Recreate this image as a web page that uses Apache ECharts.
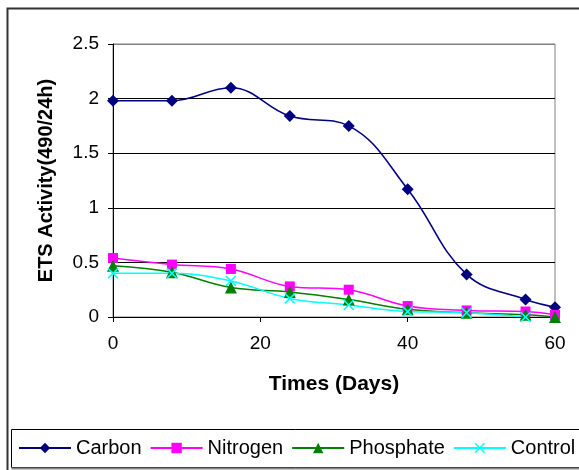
<!DOCTYPE html>
<html>
<head>
<meta charset="utf-8">
<script src="https://cdn.jsdelivr.net/npm/echarts@6/dist/echarts.min.js"></script>
<style>
html,body{margin:0;padding:0;background:#fff;}
#c{width:579px;height:470px;}
</style>
</head>
<body>
<div id="c"></div>
<script>
var days = [0, 8, 16, 24, 32, 40, 48, 56, 60];
var carbon = [1.98, 1.98, 2.10, 1.84, 1.75, 1.17, 0.39, 0.16, 0.09];
var nitrogen = [0.54, 0.48, 0.44, 0.28, 0.25, 0.10, 0.06, 0.05, 0.02];
var phosphate = [0.47, 0.41, 0.27, 0.23, 0.16, 0.07, 0.04, 0.02, 0.00];
var control = [0.40, 0.40, 0.33, 0.17, 0.11, 0.05, 0.04, 0.00];
var seriesNames = ['Carbon', 'Nitrogen', 'Phosphate', 'Control'];
var xTicks = [0, 20, 40, 60];
var yTicks = [0, 0.5, 1, 1.5, 2, 2.5];

function pairs(vals) {
  return vals.map(function (v, i) { return [days[i], v]; });
}
var xPath = 'path://M0,1L1,0L5,4L9,0L10,1L6,5L10,9L9,10L5,6L1,10L0,9L4,5Z';
var font = 'Liberation Sans, Arial, sans-serif';

var chart = echarts.init(document.getElementById('c'), null, {renderer: 'canvas'});
chart.setOption({
  animation: false,
  backgroundColor: '#fff',
  textStyle: {fontFamily: font},
  graphic: [
    {type: 'rect', shape: {x: 7.5, y: 8.5, width: 700, height: 700}, style: {fill: 'none', stroke: '#333', lineWidth: 2}, z: -10},
    {type: 'rect', shape: {x: 11.5, y: 429.5, width: 700, height: 38}, style: {fill: '#fff', stroke: '#000', lineWidth: 1}, z: -5},
    {type: 'line', shape: {x1: 11.5, y1: 468.5, x2: 700, y2: 468.5}, style: {stroke: '#888', lineWidth: 2}, z: -5}
  ],
  grid: {left: 113, right: 24, top: 44, bottom: 153, show: true, borderColor: '#808080', borderWidth: 1, backgroundColor: '#fff'},
  legend: {
    data: seriesNames,
    left: 18, top: 438,
    itemWidth: 52, itemHeight: 13, itemGap: 8,
    padding: 0,
    textStyle: {fontSize: 20, color: '#000', fontFamily: font}
  },
  xAxis: {
    type: 'value', min: xTicks[0], max: xTicks[xTicks.length - 1], interval: 20,
    name: 'Times (Days)', nameLocation: 'middle', nameGap: 57,
    nameTextStyle: {fontSize: 21, fontWeight: 'bold', color: '#000', fontFamily: font},
    axisLine: {lineStyle: {color: '#000', width: 1}},
    axisTick: {show: true, length: 5, lineStyle: {color: '#000'}},
    axisLabel: {fontSize: 19, color: '#000', margin: 17, fontFamily: font},
    splitLine: {show: false}
  },
  yAxis: {
    type: 'value', min: yTicks[0], max: yTicks[yTicks.length - 1], interval: 0.5,
    name: 'ETS Activity(490/24h)', nameLocation: 'middle', nameGap: 57, nameRotate: 90,
    nameTextStyle: {fontSize: 20, fontWeight: 'bold', color: '#000', fontFamily: font},
    axisLine: {show: true, lineStyle: {color: '#000', width: 1}},
    axisTick: {show: true, length: 5, lineStyle: {color: '#000'}},
    axisLabel: {fontSize: 19, color: '#000', margin: 14, fontFamily: font},
    splitLine: {show: true, lineStyle: {color: ['#000', '#000', '#000', '#000', '#000', '#808080'], width: 1}}
  },
  series: [
    {name: 'Carbon', type: 'line', data: pairs(carbon), smooth: 0.4, symbol: 'diamond', symbolSize: 12,
     itemStyle: {color: '#000080'}, lineStyle: {color: '#000080', width: 1.6}},
    {name: 'Nitrogen', type: 'line', data: pairs(nitrogen), smooth: 0.4, symbol: 'rect', symbolSize: 10,
     itemStyle: {color: '#FF00FF'}, lineStyle: {color: '#FF00FF', width: 1.5}},
    {name: 'Phosphate', type: 'line', data: pairs(phosphate), smooth: 0.4, symbol: 'triangle', symbolSize: 12,
     itemStyle: {color: '#008000'}, lineStyle: {color: '#008000', width: 1.5}},
    {name: 'Control', type: 'line', data: pairs(control), smooth: 0.4, symbol: xPath, symbolSize: 11,
     itemStyle: {color: '#00FFFF'}, lineStyle: {color: '#00FFFF', width: 1.5}}
  ]
});
</script>
</body>
</html>
